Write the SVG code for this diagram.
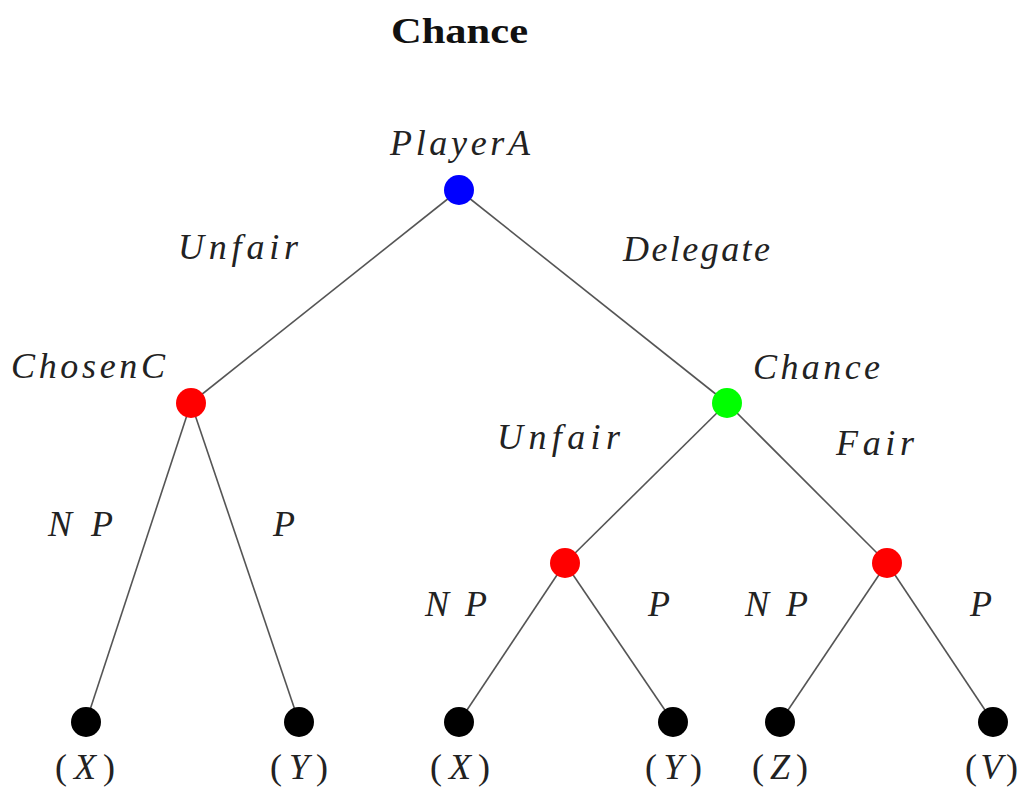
<svg xmlns="http://www.w3.org/2000/svg" width="1018" height="791" viewBox="0 0 1018 791">
<style>
.e{stroke:#555;stroke-width:1.6;fill:none}
.t{font-family:"Liberation Serif","DejaVu Serif",serif;font-style:italic;font-size:36px;fill:#222}
.u{font-style:normal}
.title{font-family:"Liberation Serif","DejaVu Serif",serif;font-weight:bold;font-size:36px;fill:#111}
.leaf{fill:#000}
</style>
<rect width="1018" height="791" fill="#fff"/>
<text class="title" x="391" y="43" textLength="137" lengthAdjust="spacingAndGlyphs">Chance</text>
<g id="connectors">
<line class="e" x1="459" y1="190" x2="191" y2="403"/>
<line class="e" x1="459" y1="190" x2="727" y2="403"/>
<line class="e" x1="191" y1="403" x2="86" y2="722"/>
<line class="e" x1="191" y1="403" x2="299" y2="722"/>
<line class="e" x1="727" y1="403" x2="565" y2="563"/>
<line class="e" x1="727" y1="403" x2="887" y2="563"/>
<line class="e" x1="565" y1="563" x2="459" y2="722"/>
<line class="e" x1="565" y1="563" x2="673" y2="722"/>
<line class="e" x1="887" y1="563" x2="780" y2="722"/>
<line class="e" x1="887" y1="563" x2="993" y2="722"/>
</g>
<g id="edge-labels">
<text class="t" x="178" y="259" textLength="120" lengthAdjust="spacing">Unfair</text>
<text class="t" x="623" y="261" textLength="147" lengthAdjust="spacing">Delegate</text>
<text class="t" x="497" y="449" textLength="123" lengthAdjust="spacing">Unfair</text>
<text class="t" x="836" y="455" textLength="78" lengthAdjust="spacing">Fair</text>
<text class="t" x="48" y="536" textLength="65" lengthAdjust="spacing">NP</text>
<text class="t" x="273" y="536">P</text>
<text class="t" x="425" y="616" textLength="62" lengthAdjust="spacing">NP</text>
<text class="t" x="648" y="616">P</text>
<text class="t" x="745" y="616" textLength="63" lengthAdjust="spacing">NP</text>
<text class="t" x="970" y="616">P</text>
</g>
<g id="playerA">
<circle cx="459" cy="190" r="15" fill="#0000ff"/>
<text class="t" x="390" y="155" textLength="140" lengthAdjust="spacing">PlayerA</text>
</g>
<g id="chosenC">
<circle cx="191" cy="403" r="15" fill="#ff0000"/>
<text class="t" x="11" y="378" textLength="154" lengthAdjust="spacing">ChosenC</text>
</g>
<g id="chance">
<circle cx="727" cy="403" r="15" fill="#00ff00"/>
<text class="t" x="753" y="379" textLength="127" lengthAdjust="spacing">Chance</text>
</g>
<g id="unfair-red">
<circle cx="565" cy="563" r="15" fill="#ff0000"/>
</g>
<g id="fair-red">
<circle cx="887" cy="563" r="15" fill="#ff0000"/>
</g>
<g id="leaf1"><circle class="leaf" cx="86" cy="722" r="15"/><text class="t" x="55" y="779" textLength="60" lengthAdjust="spacing"><tspan class="u">(</tspan>X<tspan class="u">)</tspan></text></g>
<g id="leaf2"><circle class="leaf" cx="299" cy="722" r="15"/><text class="t" x="270" y="779" textLength="58" lengthAdjust="spacing"><tspan class="u">(</tspan>Y<tspan class="u">)</tspan></text></g>
<g id="leaf3"><circle class="leaf" cx="459" cy="722" r="15"/><text class="t" x="430" y="779" textLength="60" lengthAdjust="spacing"><tspan class="u">(</tspan>X<tspan class="u">)</tspan></text></g>
<g id="leaf4"><circle class="leaf" cx="673" cy="722" r="15"/><text class="t" x="645" y="779" textLength="57" lengthAdjust="spacing"><tspan class="u">(</tspan>Y<tspan class="u">)</tspan></text></g>
<g id="leaf5"><circle class="leaf" cx="780" cy="722" r="15"/><text class="t" x="752" y="779" textLength="56" lengthAdjust="spacing"><tspan class="u">(</tspan>Z<tspan class="u">)</tspan></text></g>
<g id="leaf6"><circle class="leaf" cx="993" cy="722" r="15"/><text class="t" x="965" y="779" textLength="53" lengthAdjust="spacing"><tspan class="u">(</tspan>V<tspan class="u">)</tspan></text></g>
</svg>
